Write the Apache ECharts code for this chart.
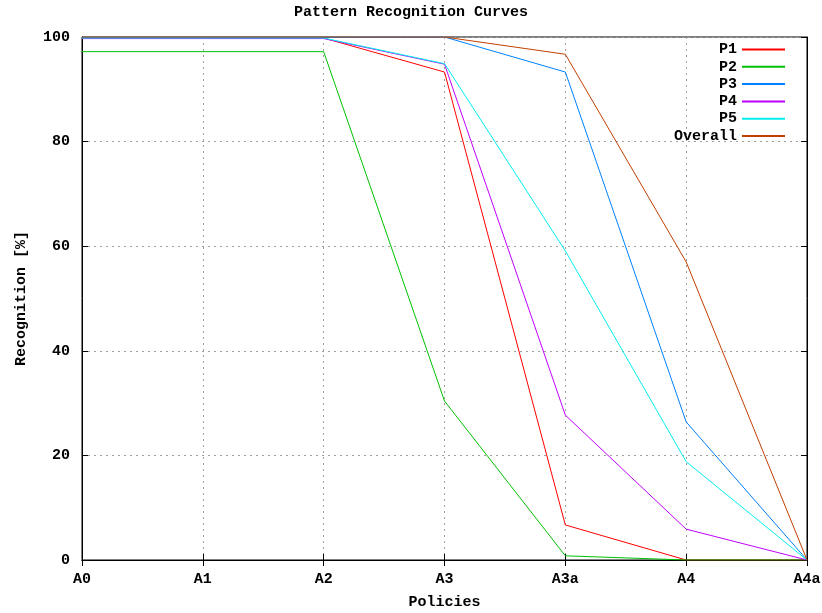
<!DOCTYPE html>
<html><head><meta charset="utf-8">
<script src="https://cdn.jsdelivr.net/npm/echarts@6/dist/echarts.min.js"></script>
<style>html,body{margin:0;padding:0;background:#fff}#c{width:822px;height:613px}</style>
</head><body><div id="c"></div>
<script>
const categories = ['A0','A1','A2','A3','A3a','A4','A4a'];
const p1 = [99.8, 99.8, 99.8, 93.3, 6.7, 0.0, 0.0];
const p2 = [97.2, 97.2, 97.2, 30.4, 0.8, 0.0, 0.0];
const p3 = [99.9, 99.9, 99.9, 100.0, 93.3, 26.4, 0.0];
const p4 = [99.7, 99.7, 99.7, 94.8, 27.7, 5.9, 0.0];
const p5 = [99.8, 99.8, 99.8, 94.9, 59.1, 18.8, 0.0];
const overall = [100.0, 100.0, 100.0, 100.0, 96.7, 57.0, 0.0];
const yTicks = [0, 20, 40, 60, 80, 100];

const FONT = 'Liberation Mono';
const FS = 15;
const names = ['P1','P2','P3','P4','P5','Overall'];
const colors = ['#ff0000','#00c000','#0080ff','#c000ff','#00eeee','#c04000'];
const datas = [p1,p2,p3,p4,p5,overall];

const chart = echarts.init(document.getElementById('c'));
const dash = {color:'#a0a0a0', type:[2,4], width:1};
const txt = {fontFamily:FONT, fontWeight:'bold', fontSize:FS, color:'#000'};
chart.setOption({
  animation:false,
  title:{text:'Pattern Recognition Curves', left:'center', top:0, textStyle:txt},
  legend:{orient:'vertical', right:32, top:37, align:'right', itemWidth:43, itemHeight:2, itemGap:2.3,
    icon:'rect',
    textStyle:Object.assign({lineHeight:15}, txt),
    data:names},
  grid:{left:82, right:15, top:37, bottom:53, show:true, borderColor:'#000', borderWidth:1,
    containLabel:false, outerBoundsMode:'none'},
  xAxis:[{type:'category', data:categories, boundaryGap:false,
    name:'Policies', nameLocation:'middle', nameGap:35, nameTextStyle:txt,
    axisLine:{lineStyle:{color:'#000'}},
    axisTick:{inside:true, length:6, lineStyle:{color:'#000'}},
    axisLabel:Object.assign({margin:12}, txt),
    splitLine:{show:true, lineStyle:dash}},
   {type:'category', data:categories, boundaryGap:false, position:'top',
    axisLine:{lineStyle:{color:'#000'}},
    axisTick:{inside:true, length:6, lineStyle:{color:'#000'}},
    axisLabel:{show:false}, splitLine:{show:false}}],
  yAxis:[{type:'value', min:0, max:100, interval:20,
    name:'Recognition [%]', nameLocation:'middle', nameGap:53, nameRotate:90, nameTextStyle:txt,
    axisLine:{show:true, lineStyle:{color:'#000'}},
    axisTick:{show:true, inside:true, length:6, lineStyle:{color:'#000'}},
    axisLabel:Object.assign({margin:12, formatter:v=>yTicks.includes(v)?String(v):''}, txt),
    splitLine:{show:true, lineStyle:dash}},
   {type:'value', min:0, max:100, interval:20, position:'right',
    axisLine:{show:true, lineStyle:{color:'#000'}},
    axisTick:{show:true, inside:true, length:6, lineStyle:{color:'#000'}},
    axisLabel:{show:false}, splitLine:{show:false}}],
  series: names.map((n,i)=>({name:n, type:'line', data:datas[i], showSymbol:false, symbol:'none',
    lineStyle:{color:colors[i], width:1}, itemStyle:{color:colors[i]}, z:2+i}))
});
</script></body></html>
